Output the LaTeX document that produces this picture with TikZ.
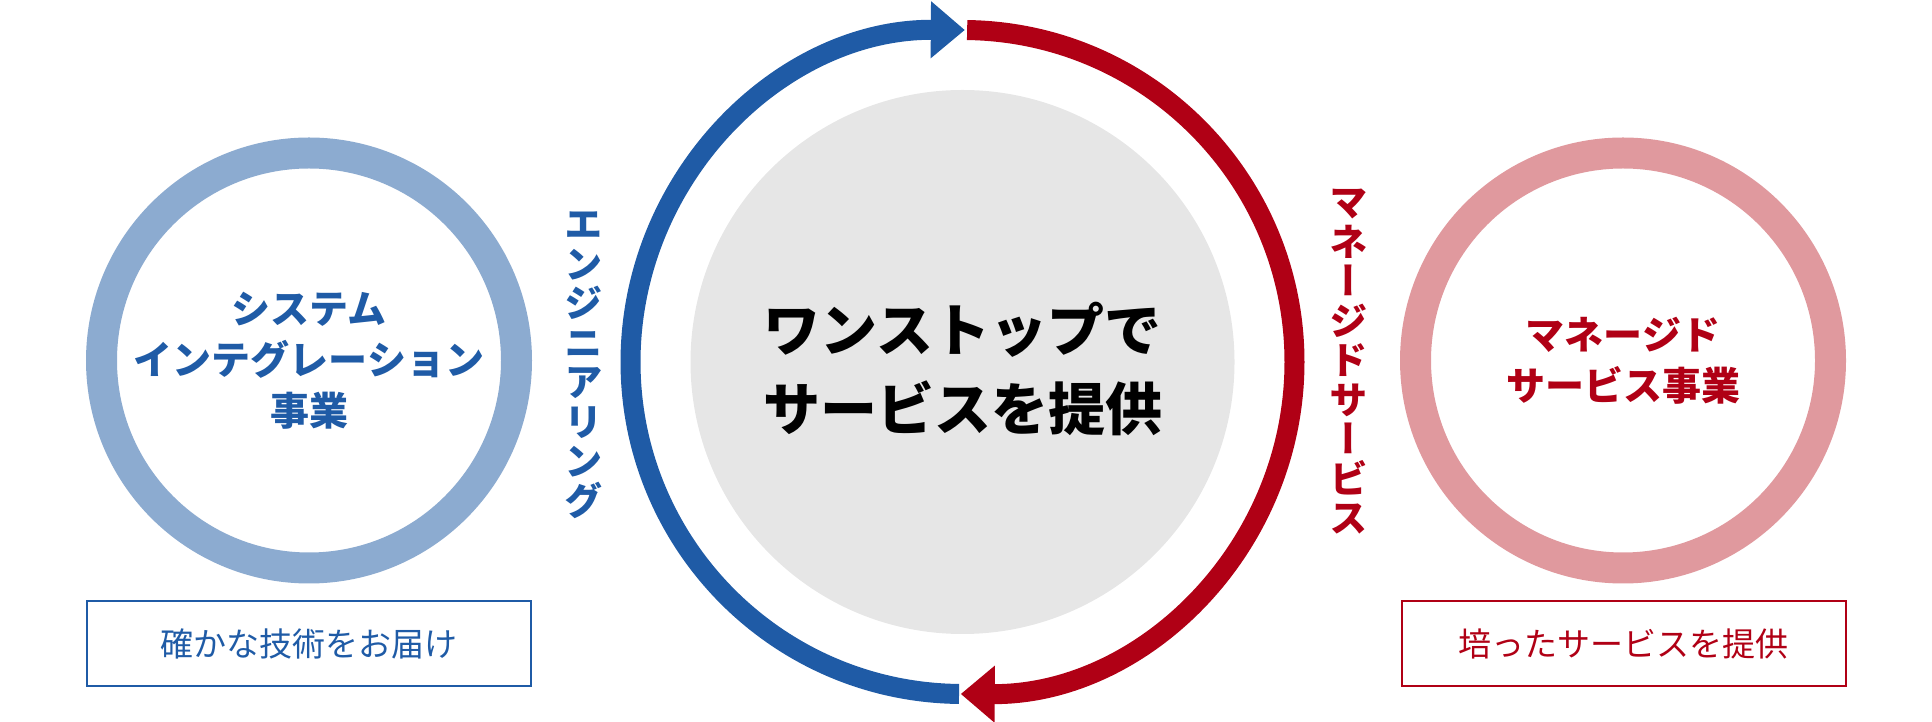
\documentclass[tikz,border=0pt]{standalone}
\usepackage{fontspec}
\setmainfont{Noto Sans CJK JP}
\newfontfamily\vjp[RawFeature=+vert]{Noto Sans CJK JP}
\usetikzlibrary{arrows.meta}
\definecolor{sysblue}{HTML}{1F5BA6}
\definecolor{syslight}{HTML}{8CABD0}
\definecolor{mgdred}{HTML}{B00015}
\definecolor{mgdpink}{HTML}{E0999E}
\definecolor{hubgray}{HTML}{E6E6E6}
\tikzset{
  bizring/.style={circle, line width=31pt, minimum size=415pt, align=center,
    font=\fontsize{39}{51}\selectfont\bfseries},
  tagbox/.style={draw, line width=2pt, minimum width=444pt, minimum height=85pt,
    font=\fontsize{33}{40}\selectfont},
  vlabel/.style={align=center, inner sep=0pt,
    font={\vjp\fontsize{38.5}{39.5}\selectfont\bfseries\lineskiplimit=-100pt}},
  cycle/.style={line width=20pt, -{Triangle[length=34pt,width=55pt]}}
}
\begin{document}
\begin{tikzpicture}[x=1pt,y=1pt]
\useasboundingbox (0,0) rectangle (1932,722);
\coordinate (ring) at (962.5,360);
\node[circle, fill=hubgray, minimum size=544pt, inner sep=0pt] (hub) at (ring) {};
\node[font=\fontsize{57}{79}\selectfont\bfseries, align=center] (hubtext) at (962.5,353) {ワンストップで\\サービスを提供};
% cycle arrows
\draw[cycle, sysblue] (ring) ++(269.4:332pt) arc[start angle=269.4, end angle=89.6, radius=332pt];
\draw[cycle, mgdred] (ring) ++(89.2:332pt) arc[start angle=89.2, end angle=-90.3, radius=332pt];
\node[vlabel, text=sysblue] (eng) at (584,357) {エ\\ン\\ジ\\ニ\\ア\\リ\\ン\\グ};
\node[vlabel, text=mgdred] (mgd) at (1348.5,360) {マ\\ネ\\ー\\ジ\\ド\\サ\\ー\\ビ\\ス};
% business circles
\node[bizring, draw=syslight, text=sysblue] (si) at (309,361.5) {システム\\インテグレーション\\事業};
\node[bizring, draw=mgdpink, text=mgdred] (ms) at (1623,361.5) {マネージド\\サービス事業};
\node[tagbox, draw=sysblue, text=sysblue] (sibox) at (309,78.5) {確かな技術をお届け};
\node[tagbox, draw=mgdred, text=mgdred] (msbox) at (1623.5,78.5) {培ったサービスを提供};
\end{tikzpicture}
\end{document}
